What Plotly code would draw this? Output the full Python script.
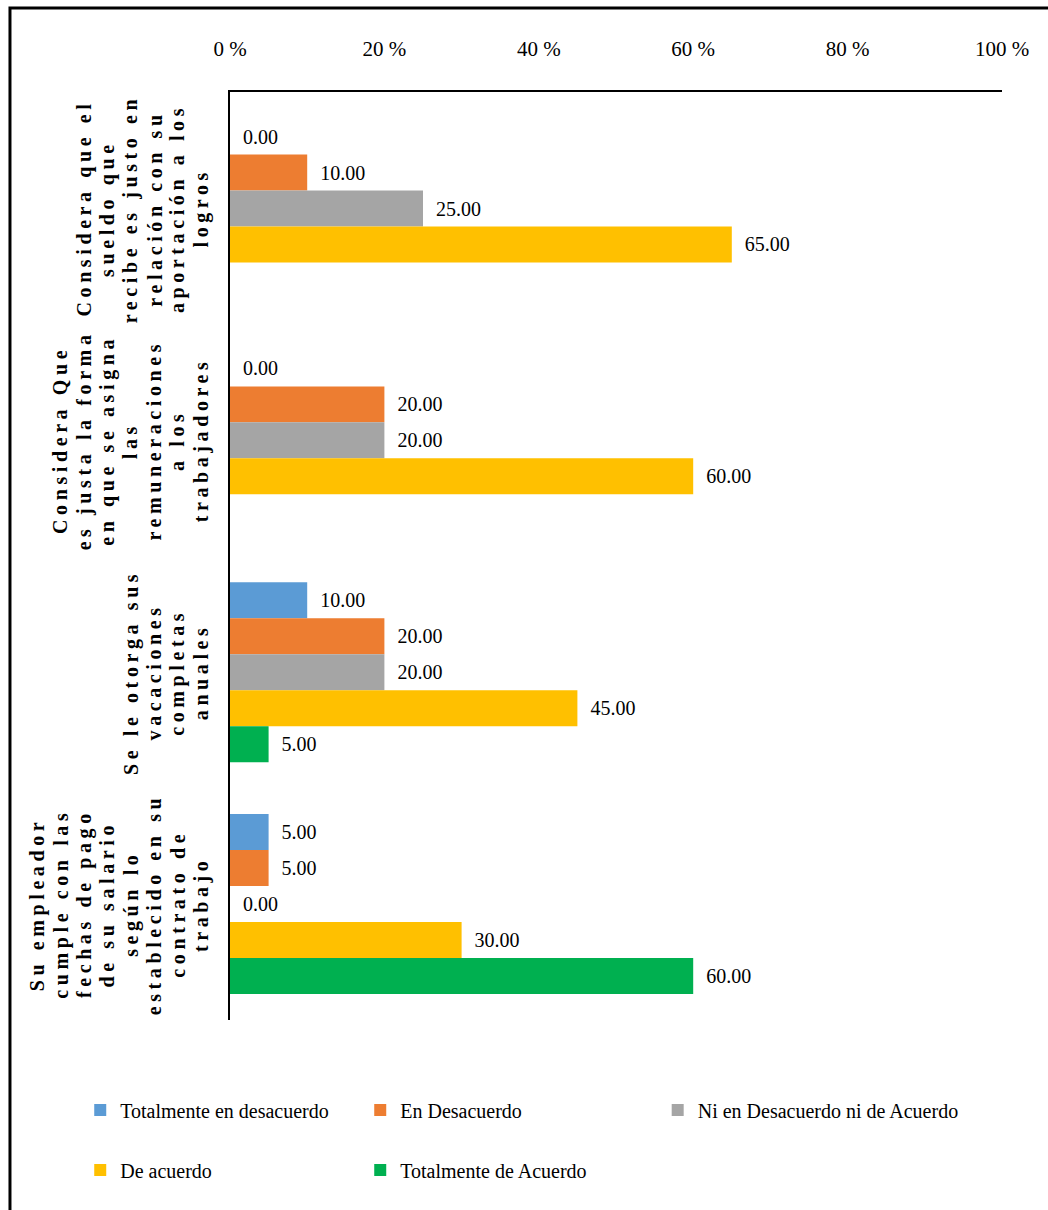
import plotly.graph_objects as go

# Survey items (y categories), top to bottom
categories = [
    "Considera que el<br>sueldo que<br>recibe es justo en<br>relación con su<br>aportación a los<br>logros",
    "Considera Que<br>es justa la forma<br>en que se asigna<br>las<br>remuneraciones<br>a los<br>trabajadores",
    "Se le otorga sus<br>vacaciones<br>completas<br>anuales",
    "Su empleador<br>cumple con las<br>fechas de pago<br>de su salario<br>según lo<br>establecido en su<br>contrato de<br>trabajo",
]

# Response shares (%) per answer option; None = no bar drawn
series_names = [
    "Totalmente en desacuerdo",
    "En Desacuerdo",
    "Ni en Desacuerdo ni de Acuerdo",
    "De acuerdo",
    "Totalmente de Acuerdo",
]
totalmente_desacuerdo = [0, 0, 10, 5]
en_desacuerdo = [10, 20, 20, 5]
ni_ni = [25, 20, 20, 0]
de_acuerdo = [65, 60, 45, 30]
totalmente_acuerdo = [None, None, 5, 60]

tick_values = [0, 20, 40, 60, 80, 100]
tick_labels = ["0 %", "20 %", "40 %", "60 %", "80 %", "100 %"]

colors = ["#5B9BD5", "#ED7D31", "#A5A5A5", "#FFC000", "#00B050"]
series_values = [totalmente_desacuerdo, en_desacuerdo, ni_ni, de_acuerdo, totalmente_acuerdo]
# legend rows: first row split so the long third entry is never clipped
legend_ids = ["legend", "legend", "legend3", "legend2", "legend2"]

SERIF = "Liberation Serif"
W, H = 1048, 1210
ML, MR, MT, MB = 230, 46, 92, 190
PLOT_W = W - ML - MR


def px_to_paper_x(px):
    return (px - ML) / PLOT_W


fig = go.Figure()
for name, vals, col, lg in zip(series_names, series_values, colors, legend_ids):
    fig.add_trace(go.Bar(
        y=categories,
        x=vals,
        name=name,
        orientation="h",
        marker=dict(color=col, line=dict(width=0)),
        text=[None if v is None else "\u00a0\u00a0" + f"{v:.2f}" for v in vals],
        textposition="outside",
        textfont=dict(family=SERIF, size=20, color="#000000"),
        constraintext="none",
        cliponaxis=False,
        legend=lg,
    ))

# Rotated category labels, one annotation per line so the line pitch can be set
label_style = "font-family:'Liberation Serif',serif;font-weight:bold;letter-spacing:4.6px"
LAST_LINE_X = 201
LINE_PITCH = 23.4
for cat in categories:
    lines = cat.split("<br>")
    n = len(lines)
    for i, line in enumerate(lines):
        cx = LAST_LINE_X - (n - 1 - i) * LINE_PITCH
        fig.add_annotation(
            x=px_to_paper_x(cx), xref="paper", xanchor="center",
            y=cat, yref="y", yanchor="middle",
            text='<span style="' + label_style + '">' + line + "</span>",
            textangle=-90,
            showarrow=False,
            font=dict(family=SERIF, size=20, color="#000000", weight="bold"),
        )

# Outer frame
fig.add_shape(
    type="rect", xref="paper", yref="paper",
    x0=-0.285, x1=1.2, y0=-0.4, y1=1.0905,
    line=dict(color="#000000", width=3), fillcolor="rgba(0,0,0,0)", layer="below",
)

legend_common = dict(
    orientation="h", xanchor="left", yanchor="middle",
    font=dict(family=SERIF, size=20, color="#000000"),
    traceorder="normal", bgcolor="rgba(0,0,0,0)",
)

fig.update_layout(
    width=W, height=H,
    margin=dict(l=ML, r=MR, t=MT, b=MB),
    paper_bgcolor="white", plot_bgcolor="white",
    barmode="group", bargap=0.224, bargroupgap=0,
    font=dict(family=SERIF, size=20, color="#000000"),
    showlegend=True,
    legend=dict(legend_common, x=-0.194, y=-0.097, entrywidth=235, entrywidthmode="pixels"),
    legend3=dict(legend_common, x=0.554, y=-0.097),
    legend2=dict(legend_common, x=-0.194, y=-0.1616, entrywidth=235, entrywidthmode="pixels"),
    xaxis=dict(
        side="top", range=[0, 100], tickmode="array", tickvals=tick_values, ticktext=tick_labels,
        showgrid=False, zeroline=False, showline=True, linecolor="#000000", linewidth=2,
        ticks="", ticklabelstandoff=26,
        tickfont=dict(family=SERIF, size=21, color="#000000"),
    ),
    yaxis=dict(
        autorange="reversed", showticklabels=False, showgrid=False, zeroline=False,
        showline=True, linecolor="#000000", linewidth=2, ticks="",
    ),
)

fig.write_html("out.html")
